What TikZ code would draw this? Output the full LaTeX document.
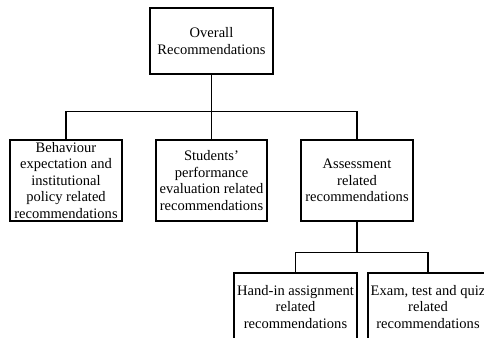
\documentclass[tikz,border=0pt]{standalone}
\usepackage{fontspec}
\setmainfont{Liberation Serif}
\usepackage{tikz}
\usetikzlibrary{positioning}
\tikzset{
	rec/.style={
			rectangle, draw=black, line width=1.4pt,
			font=\fontsize{12.4}{14.1}\selectfont,
			align=center, inner sep=2pt, text centered},
	link/.style={draw=black, line width=1.1pt},
		}
\begin{document}
\begin{tikzpicture}
	 	\useasboundingbox (0,0) rectangle (14.52,-10.14);

		\node[rec, minimum width=3.69cm, minimum height=1.98cm] (overall) at (6.345,-1.23)
			{Overall\\Recommendations};

		\node[rec, minimum width=3.33cm, minimum height=2.43cm, below of=overall, node distance=4.185cm, anchor=center] (students)
			{Students'\\performance\\evaluation related\\recommendations};

		\node[rec, minimum width=3.36cm, minimum height=2.43cm, left of=students, node distance=4.365cm, anchor=center] (behaviour)
			{Behaviour\\expectation and\\institutional\\policy related\\recommendations};

		\node[rec, minimum width=3.36cm, minimum height=2.43cm, right of=students, node distance=4.365cm, anchor=center] (assessment)
			{Assessment\\related\\recommendations};

		\node[rec, minimum width=3.69cm, minimum height=2.04cm] (handin) at (8.865,-9.21)
			{Hand-in assignment\\related\\recommendations};

		\node[rec, minimum width=3.6cm, minimum height=2.04cm, right of=handin, node distance=3.975cm, anchor=center] (exam)
			{Exam, test and quiz\\related\\recommendations};
%
		\draw[link] (overall.south) -- ++(0,-1.11) coordinate (top);
		\draw[link] (overall.south) -- (students.north);
		\draw[link] (behaviour.north) |- (top) -| (assessment.north);
%
		\draw[link] (assessment.south) -- ++(0,-0.93) coordinate (bottom);
		\draw[link] (handin.north) |- (bottom) -| (exam.north);
%	 	
	 	\end{tikzpicture}
\end{document}
